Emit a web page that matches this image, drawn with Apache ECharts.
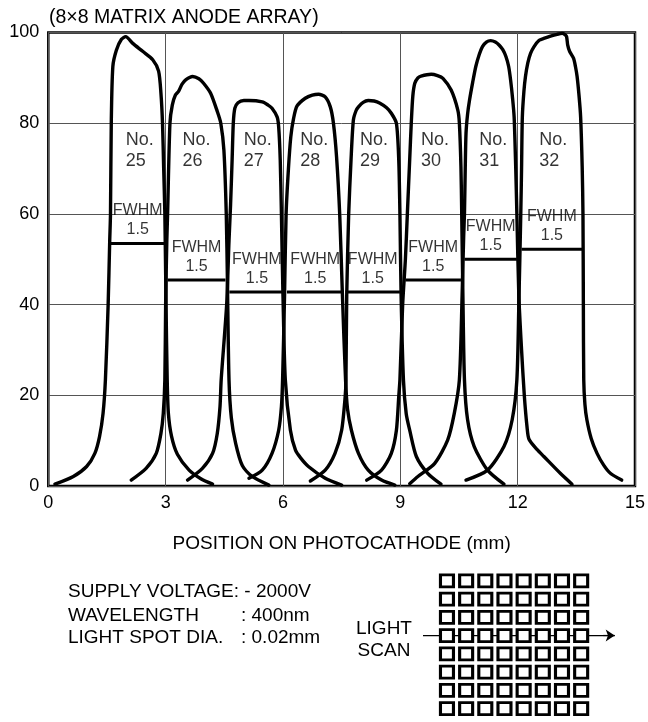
<!DOCTYPE html>
<html>
<head>
<meta charset="utf-8">
<script src="https://cdn.jsdelivr.net/npm/echarts@6/dist/echarts.min.js"></script>
<style>
html,body{margin:0;padding:0;background:#fff;}
#chart{width:648px;height:722px;}
</style>
</head>
<body>
<div id="chart"></div>
<script>
// ---- data ----
const xTicks = [0, 3, 6, 9, 12, 15];
const yTicks = [0, 20, 40, 60, 80, 100];
const channelNames = ['25', '26', '27', '28', '29', '30', '31', '32'];

const curve25 = [[0.17,0.4],[0.64,2.1],[0.98,4.3],[1.19,7.2],[1.31,10.9],[1.40,16],[1.46,23.4],[1.53,40],[1.57,54],[1.59,60],[1.61,80],[1.65,92.5],[1.74,96.1],[1.87,98.5],[1.98,99.1],[2.16,97.6],[2.42,95.8],[2.67,94],[2.82,91.5],[2.88,86.6],[2.92,80],[2.95,70],[2.98,60],[3.01,40],[3.04,23.4],[3.07,16],[3.15,11],[3.3,7],[3.6,3.5],[3.9,1.6],[4.2,0.4]];
const curve26 = [[2.12,1.3],[2.50,3.9],[2.76,7.2],[2.88,11.6],[2.94,16],[2.98,23.4],[3.0,40],[3.03,54],[3.05,60],[3.11,80],[3.17,84],[3.25,86.2],[3.33,87],[3.42,88.6],[3.52,89.6],[3.69,90.3],[3.85,89.8],[3.97,88.8],[4.15,86.6],[4.32,82.6],[4.41,80],[4.49,74],[4.55,60],[4.58,45],[4.62,23.4],[4.68,15],[4.79,9.4],[4.96,4.5],[5.21,2.1],[5.64,0.2]];
const curve27 = [[3.56,1.3],[3.94,3.9],[4.2,7.2],[4.32,11.6],[4.39,17.5],[4.42,23.4],[4.56,40],[4.62,54],[4.66,62],[4.70,72],[4.73,80],[4.77,83.3],[4.85,84.5],[5.0,85],[5.13,85],[5.47,84.7],[5.62,84],[5.72,83.3],[5.85,81.4],[5.89,79.2],[5.93,71.9],[5.96,60],[6.0,42],[6.06,23.4],[6.19,12.3],[6.32,7.9],[6.45,6.2],[6.65,4.3],[7.08,1.7],[7.5,0.2]];
const curve28 = [[5.13,1.7],[5.47,3.5],[5.72,7.2],[5.89,12.3],[5.96,17.5],[5.99,23.4],[6.04,42],[6.08,60],[6.14,70],[6.2,77],[6.27,81],[6.36,83.8],[6.57,85.5],[6.75,86.2],[6.91,86.4],[7.08,85.8],[7.21,83.6],[7.29,80],[7.37,72.6],[7.45,60],[7.52,42],[7.60,23.4],[7.65,17],[7.75,12.3],[7.93,7.2],[8.18,3.5],[8.52,1.3],[8.86,0.2]];
const curve29 = [[6.70,1.1],[7.08,3.5],[7.33,7.2],[7.50,12.3],[7.59,19.7],[7.61,23.4],[7.63,42],[7.68,60],[7.74,71.9],[7.80,80.7],[7.87,82.8],[7.93,83.6],[8.05,84.6],[8.18,85],[8.33,84.9],[8.48,84.4],[8.65,83.4],[8.77,82.2],[8.90,80],[8.96,71.9],[8.99,60],[9.02,42],[9.08,23.4],[9.15,16],[9.24,12.3],[9.41,6.5],[9.70,2.8],[10.04,0.4]];
const curve30 = [[8.14,1.3],[8.52,3.5],[8.77,7.2],[8.90,12.3],[8.96,19.7],[8.99,23.4],[9.06,40],[9.13,50],[9.18,60],[9.24,72],[9.28,80],[9.32,86],[9.37,88.8],[9.45,90],[9.53,90.4],[9.79,90.8],[9.95,90.5],[10.09,89.9],[10.30,87.3],[10.47,82.9],[10.51,80],[10.55,70.4],[10.57,60],[10.60,42],[10.64,23.4],[10.72,14.6],[10.89,8.7],[11.23,3.5],[11.65,0.4]];
const curve31 = [[9.24,0.5],[9.45,2.1],[9.88,5],[10.21,10.1],[10.38,16],[10.51,23.4],[10.58,42],[10.62,55],[10.64,60],[10.66,70],[10.68,77.8],[10.72,82],[10.77,85.1],[10.85,89],[10.93,92.5],[11.02,95.2],[11.10,96.9],[11.2,97.9],[11.31,98.2],[11.43,97.9],[11.53,97.2],[11.62,96.2],[11.70,94.7],[11.77,92.5],[11.82,89.5],[11.87,85.5],[11.91,81.4],[11.95,70.4],[11.98,60],[12.03,42],[12.1,30],[12.17,20],[12.24,13],[12.29,10.3],[12.5,8],[12.67,6.5],[13.09,2.8],[13.39,0.4]];
const curve32 = [[10.68,1.3],[11.23,3.5],[11.65,8.7],[11.86,14.6],[11.98,23.4],[12.03,40],[12.08,60],[12.10,70],[12.12,81.4],[12.16,87],[12.20,90.3],[12.26,93.3],[12.33,95.4],[12.42,96.9],[12.55,98.3],[12.67,98.7],[12.84,99.2],[13.01,99.6],[13.14,99.8],[13.20,99.6],[13.25,99.1],[13.28,97.2],[13.33,95.8],[13.43,94.3],[13.48,92.4],[13.52,90.3],[13.57,86],[13.61,81.4],[13.65,70.4],[13.67,60],[13.68,40],[13.69,23.4],[13.72,18],[13.77,14.6],[13.88,10.5],[14.03,7.2],[14.2,4.6],[14.37,2.8],[14.66,1.3]];
const curves = [curve25, curve26, curve27, curve28, curve29, curve30, curve31, curve32];

const fwhmStart = [1.59, 3.05, 4.63, 6.10, 7.60, 9.13, 10.64, 12.10];
const fwhmEnd   = [2.98, 4.53, 6.04, 7.55, 8.99, 10.55, 11.98, 13.65];
const fwhmLevel = [53.5, 45.4, 42.8, 42.8, 42.8, 45.4, 50.0, 52.2];
const fwhmValue = ['1.5', '1.5', '1.5', '1.5', '1.5', '1.5', '1.5', '1.5'];

const labelX = [1.98, 3.43, 5.0, 6.44, 7.97, 9.53, 11.02, 12.55];
const labelY = [74, 74, 74, 74, 74, 74, 74, 74];

const anodeCols = [0, 1, 2, 3, 4, 5, 6, 7];
const anodeRows = [0, 1, 2, 3, 4, 5, 6, 7];
const scanRow = 3;
const scanFrom = -1.25, scanTo = 8.75;

const conditionLabels = ['SUPPLY VOLTAGE', 'WAVELENGTH', 'LIGHT SPOT DIA.'];
const conditionValues = [': - 2000V', ': 400nm', ': 0.02mm'];

// ---- chart ----
const FONT = "'Liberation Sans', Arial, Helvetica, sans-serif";
const chart = echarts.init(document.getElementById('chart'), null, {renderer: 'canvas'});

const series = [];
curves.forEach((c, i) => {
  series.push({
    type: 'line', name: 'No. ' + channelNames[i], data: c,
    xAxisIndex: 0, yAxisIndex: 0,
    smooth: 0.25, symbol: 'none', silent: true,
    lineStyle: {color: '#000', width: 3.4, join: 'round', cap: 'round'}, z: 3
  });
});
fwhmStart.forEach((s, i) => {
  series.push({
    type: 'line', data: [[s, fwhmLevel[i]], [fwhmEnd[i], fwhmLevel[i]]],
    xAxisIndex: 0, yAxisIndex: 0, symbol: 'none', silent: true,
    lineStyle: {color: '#000', width: 3}, z: 3
  });
});
series.push({
  type: 'scatter', xAxisIndex: 0, yAxisIndex: 0, symbolSize: 0, silent: true, z: 4,
  data: fwhmStart.map((s, i) => [(s + fwhmEnd[i]) / 2, fwhmLevel[i]]),
  label: {
    show: true, position: 'top', distance: 4, color: '#000',
    fontFamily: FONT, fontSize: 16, lineHeight: 19, align: 'center',
    formatter: p => 'FWHM\n' + fwhmValue[p.dataIndex]
  }
});
series.push({
  type: 'scatter', xAxisIndex: 0, yAxisIndex: 0, symbolSize: 0, silent: true, z: 4,
  data: labelX.map((x, i) => [x, labelY[i]]),
  label: {
    show: true, position: 'right', distance: 0, color: '#000',
    fontFamily: FONT, fontSize: 18, lineHeight: 21, align: 'left',
    formatter: p => 'No.\n' + channelNames[p.dataIndex]
  }
});
// anode array diagram
const cells = [];
anodeRows.forEach(r => anodeCols.forEach(c => cells.push([c, r])));
series.push({
  type: 'line', xAxisIndex: 1, yAxisIndex: 1, silent: true, z: 1,
  data: [[scanFrom, scanRow], [scanTo, scanRow]], symbol: 'none',
  lineStyle: {color: '#000', width: 1.2},
  markLine: {
    silent: true, symbol: ['none', 'arrow'], symbolSize: 9,
    label: {show: false},
    lineStyle: {color: '#000', width: 1.2, type: 'solid'},
    data: [[{coord: [scanTo - 0.6, scanRow]}, {coord: [scanTo, scanRow]}]]
  }
});
series.push({
  type: 'scatter', xAxisIndex: 1, yAxisIndex: 1, silent: true, zlevel: 1, z: 10,
  data: cells, symbol: 'rect', symbolSize: [13, 12],
  itemStyle: {color: '#fff', borderColor: '#000', borderWidth: 3, opacity: 1}
});

const txt = (text, x, y, size, align) => ({
  type: 'text', x: x, y: y, silent: true,
  style: {text: text, fill: '#000', fontFamily: FONT, fontSize: size,
          align: align || 'left', verticalAlign: 'middle'}
});

const graphics = [
  txt('(8\u00d78 MATRIX ANODE ARRAY)', 49, 18, 19.5),
  txt(conditionLabels[0] + conditionValues[0], 68, 592, 19),
  txt(conditionLabels[1], 68, 616, 19),
  txt(conditionValues[1], 241, 616, 19),
  txt(conditionLabels[2], 68, 638, 19),
  txt(conditionValues[2], 241, 638, 19),
  txt('LIGHT', 384, 629, 19, 'center'),
  txt('SCAN', 384, 651, 19, 'center')
];

chart.setOption({
  animation: false,
  backgroundColor: '#fff',
  textStyle: {fontFamily: FONT},
  grid: [
    {left: 48.3, top: 32.5, width: 590, height: 453.5, show: true,
     borderColor: '#000', borderWidth: 2.5, backgroundColor: 'transparent'},
    {left: 423, top: 571.7, width: 191.7, height: 146, show: false}
  ],
  xAxis: [
    {type: 'value', gridIndex: 0, min: xTicks[0], max: xTicks[xTicks.length - 1], interval: 3,
     axisLine: {show: false}, axisTick: {show: false},
     axisLabel: {color: '#000', fontSize: 18, margin: 8, fontFamily: FONT,
                 formatter: v => xTicks.includes(v) ? String(v) : ''},
     splitLine: {show: true, lineStyle: {color: '#555', width: 1}},
     name: 'POSITION ON PHOTOCATHODE (mm)', nameLocation: 'middle', nameGap: 48,
     nameTextStyle: {color: '#000', fontSize: 19, fontFamily: FONT}},
    {type: 'value', gridIndex: 1, min: scanFrom, max: scanTo, show: false}
  ],
  yAxis: [
    {type: 'value', gridIndex: 0, min: yTicks[0], max: yTicks[yTicks.length - 1], interval: 20,
     axisLine: {show: false}, axisTick: {show: false},
     axisLabel: {color: '#000', fontSize: 18, margin: 9, fontFamily: FONT,
                 formatter: v => yTicks.includes(v) ? String(v) : ''},
     splitLine: {show: true, lineStyle: {color: '#555', width: 1}}},
    {type: 'value', gridIndex: 1, min: -0.5, max: 7.5, inverse: true, show: false}
  ],
  graphic: graphics,
  series: series
});
</script>
</body>
</html>
